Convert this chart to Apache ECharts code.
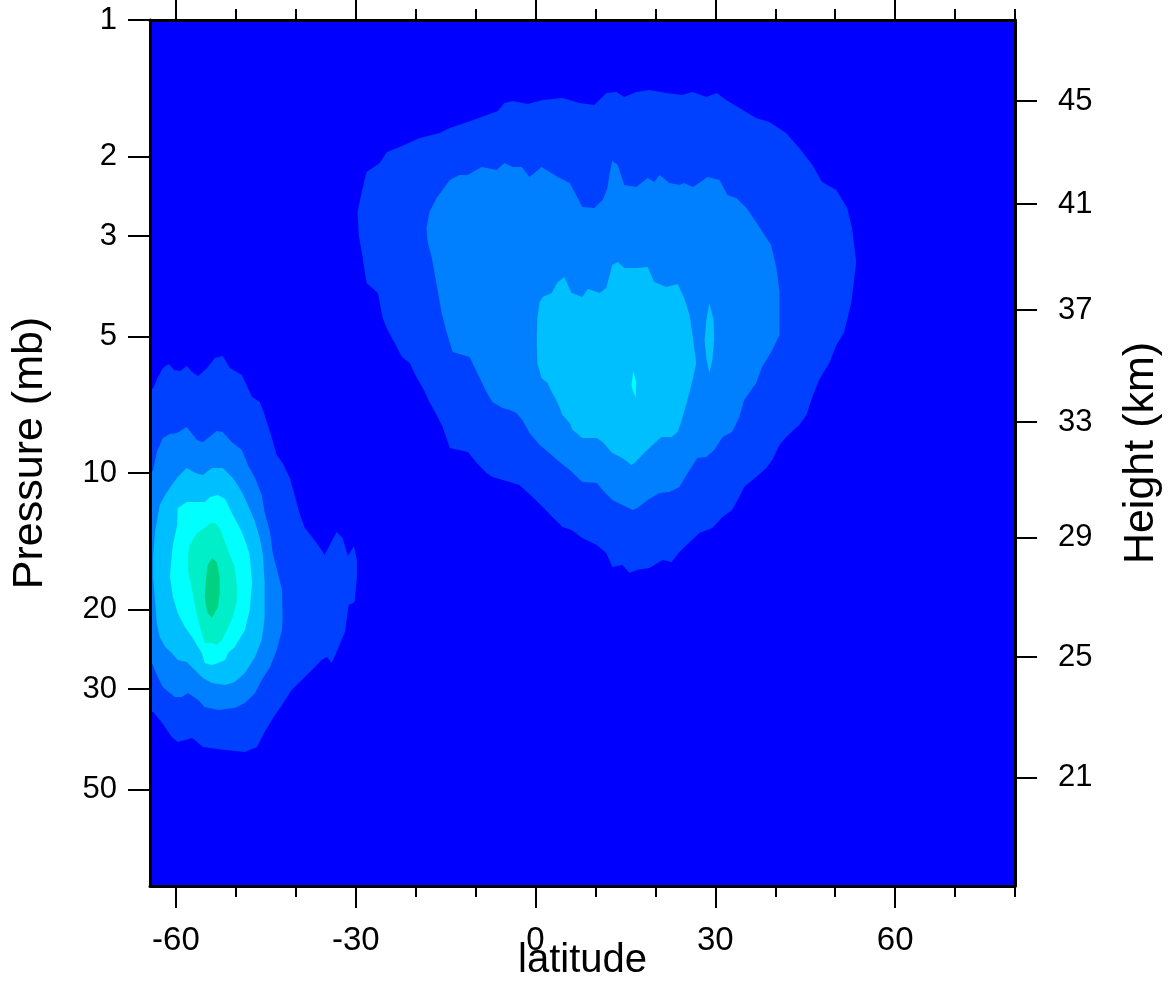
<!DOCTYPE html>
<html>
<head>
<meta charset="utf-8">
<script src="https://cdn.jsdelivr.net/npm/echarts@6/dist/echarts.min.js"></script>
<style>
html,body{margin:0;padding:0;background:#ffffff;}
#chart{width:1170px;height:986px;}
</style>
</head>
<body>
<div id="chart"></div>
<script>
// ---------------- axis data ----------------
const latMin = -64.33;
const latMax = 80;
const latMajor = [-60, -30, 0, 30, 60];
const latMinor = [-50, -40, -20, -10, 10, 20, 40, 50, 70, 80];
const pressureTop = 1;
const pressureBottom = 81.6;
const pressureTicks = [1, 2, 3, 5, 10, 20, 30, 50];
const heightLabels = [45, 41, 37, 33, 29, 25, 21];
const heightPressures = [1.51, 2.55, 4.37, 7.72, 13.9, 25.5, 47.1];

// contour level fill colours (background = level 0)
const backgroundColor = '#0000FF';
const levelColors = ['#0040FF', '#0080FF', '#00BFFF', '#00FFFF', '#00EEC8', '#00D282'];

// ---------------- contour outlines: [latitude, pressure (mb)] ----------------
const heartL1 = [[11.8,1.449],[9.8,1.540],[7.3,1.525],[4.5,1.487],[1.2,1.502],[-1.3,1.532],[-3.8,1.510],[-5.2,1.525],[-6.3,1.588],[-9.0,1.637],[-11.3,1.680],[-14.3,1.731],[-16.0,1.776],[-19.3,1.822],[-22.7,1.907],[-24.8,1.956],[-26.0,2.069],[-28.2,2.165],[-29.0,2.397],[-29.7,2.654],[-29.5,2.983],[-29.0,3.252],[-28.2,3.807],[-26.3,4.006],[-25.5,4.548],[-24.7,4.834],[-23.5,5.166],[-22.3,5.546],[-21.0,5.717],[-19.8,6.171],[-18.8,6.492],[-17.7,6.968],[-16.5,7.445],[-15.5,7.916],[-14.3,8.806],[-11.3,8.987],[-9.8,9.504],[-8.2,10.0],[-7.2,10.21],[-4.3,10.47],[-2.7,10.63],[-0.5,11.30],[1.2,11.89],[2.8,12.51],[4.5,13.16],[6.0,13.36],[7.8,13.92],[10.2,14.42],[11.8,15.02],[12.8,16.13],[14.5,15.97],[15.7,16.63],[16.8,16.38],[19.0,16.21],[21.2,15.56],[22.7,15.72],[24.0,14.94],[25.7,14.21],[27.3,13.57],[29.5,13.23],[31.2,12.51],[32.8,12.07],[34.0,11.30],[34.8,10.74],[36.8,10.21],[38.5,9.749],[39.5,9.361],[40.7,8.674],[41.8,8.328],[44.0,7.835],[45.2,7.447],[46.2,6.795],[47.3,6.233],[49.0,5.717],[50.2,5.217],[51.5,4.884],[52.7,4.195],[53.5,3.421],[52.8,2.879],[52.0,2.600],[50.2,2.373],[47.8,2.279],[46.2,2.090],[44.0,1.917],[41.8,1.776],[39.0,1.680],[36.8,1.646],[34.0,1.564],[31.8,1.502],[30.2,1.449],[28.5,1.479],[26.2,1.442],[24.5,1.464],[21.8,1.449],[19.0,1.427],[16.8,1.442],[14.8,1.479],[13.5,1.442]];

const heartL2 = [[-18.2,2.879],[-17.7,2.654],[-16.5,2.471],[-14.3,2.256],[-12.7,2.199],[-11.3,2.199],[-9.0,2.111],[-6.5,2.144],[-5.2,2.069],[-3.8,2.111],[-2.3,2.111],[-1.0,2.222],[1.0,2.111],[3.7,2.222],[5.7,2.290],[7.8,2.587],[9.8,2.600],[11.2,2.497],[12.0,2.349],[12.3,2.199],[12.8,2.048],[13.7,2.090],[14.8,2.313],[16.8,2.337],[18.7,2.233],[19.8,2.279],[20.7,2.199],[22.3,2.290],[24.0,2.313],[24.8,2.290],[26.2,2.337],[27.3,2.290],[28.7,2.222],[30.7,2.256],[32.0,2.434],[33.5,2.471],[35.2,2.600],[36.8,2.792],[38.2,2.983],[39.3,3.139],[40.2,3.527],[40.7,3.986],[40.7,4.959],[39.5,5.352],[37.8,5.834],[36.8,6.330],[34.8,6.901],[34.0,7.521],[32.8,8.119],[31.2,8.328],[29.8,8.897],[28.5,9.219],[27.0,9.266],[25.7,9.849],[24.0,10.74],[22.3,11.01],[20.7,11.07],[18.7,11.47],[17.0,11.95],[16.2,12.07],[14.5,11.77],[12.8,11.47],[11.2,10.90],[10.2,10.52],[7.8,10.47],[5.7,9.849],[4.0,9.456],[2.3,9.033],[0.7,8.674],[-1.0,8.160],[-2.2,7.638],[-3.2,7.370],[-4.3,7.260],[-5.5,7.185],[-7.2,6.968],[-8.2,6.625],[-9.8,5.985],[-11.0,5.546],[-13.8,5.406],[-14.3,5.166],[-14.8,4.909],[-15.7,4.412],[-16.5,3.846],[-17.3,3.352],[-18.0,3.091]];

const heartL3 = [[0.7,4.195],[1.2,4.088],[2.7,4.006],[3.7,3.788],[4.8,3.693],[6.0,4.006],[7.8,4.088],[8.7,3.925],[10.7,4.006],[11.8,3.906],[12.8,3.474],[13.7,3.421],[14.8,3.527],[16.8,3.527],[18.7,3.510],[19.8,3.788],[21.8,3.886],[23.7,3.826],[24.8,4.109],[25.7,4.479],[26.2,4.959],[26.8,5.717],[26.2,6.233],[25.2,7.004],[24.3,7.716],[23.7,8.119],[22.7,8.328],[21.0,8.328],[19.5,8.674],[17.8,9.126],[16.5,9.504],[16.0,9.602],[14.5,9.266],[12.8,9.033],[11.2,8.543],[10.2,8.371],[7.8,8.371],[6.2,8.037],[5.7,7.755],[4.5,7.447],[3.7,7.004],[2.8,6.659],[2.0,6.330],[1.0,6.171],[0.3,5.717],[0.2,5.086],[0.3,4.548]];

const heartL3Island = [[29.0,4.215],[29.7,4.595],[29.8,5.086],[29.5,5.631],[29.0,6.016],[28.5,5.574],[28.2,5.086],[28.5,4.595]];

const heartL4Sliver = [[16.3,5.955],[16.8,6.298],[16.7,6.830],[16.0,6.427]];

const blobL1 = [[-65,6.727],[-63.8,6.492],[-63.0,6.140],[-62.2,5.864],[-61.2,5.746],[-60.3,5.924],[-59.3,5.955],[-58.2,5.805],[-57.3,5.985],[-56.3,6.108],[-54.8,5.864],[-53.5,5.574],[-52.2,5.518],[-51.0,5.864],[-49.0,6.077],[-47.3,6.795],[-46.0,6.968],[-45.2,7.447],[-44.0,8.371],[-43.2,9.126],[-42.2,9.504],[-41.0,10.26],[-40.2,11.18],[-39.3,12.38],[-38.5,13.23],[-37.3,13.85],[-36.3,14.42],[-35.2,15.17],[-33.2,13.50],[-32.2,13.92],[-31.3,15.25],[-30.3,14.50],[-29.8,15.56],[-29.8,16.97],[-30.2,19.27],[-31.2,19.56],[-31.8,22.44],[-33.2,24.85],[-34.0,26.27],[-34.8,25.48],[-35.7,25.87],[-37.3,27.22],[-39.0,28.64],[-40.7,30.13],[-42.3,32.52],[-43.8,34.74],[-45.2,37.30],[-46.5,40.26],[-48.5,41.29],[-51.8,40.88],[-55.5,40.26],[-57.3,38.46],[-59.7,39.25],[-60.7,38.26],[-62.3,35.64],[-63.8,33.70],[-65,33.36]];

const blobL2 = [[-65,10.26],[-63.8,9.849],[-63.2,8.987],[-62.2,8.371],[-61.0,8.201],[-59.8,8.160],[-58.2,7.916],[-56.5,8.456],[-55.5,8.543],[-53.2,8.078],[-52.2,8.119],[-50.7,8.543],[-49.0,8.897],[-48.0,9.602],[-46.8,10.26],[-45.7,11.18],[-45.2,12.19],[-44.3,13.50],[-43.8,15.17],[-43.0,16.63],[-42.3,18.13],[-42.2,20.79],[-42.3,22.21],[-43.2,24.59],[-44.3,26.81],[-45.7,28.64],[-46.8,30.60],[-48.5,32.19],[-50.2,33.02],[-53.0,33.36],[-55.2,32.85],[-56.3,31.70],[-58.0,30.60],[-59.0,31.23],[-60.2,31.23],[-62.2,29.68],[-63.2,27.92],[-64.0,26.27],[-65,26.0]];

const blobL3 = [[-63.5,13.50],[-62.7,11.77],[-61.8,11.18],[-60.7,10.63],[-59.7,10.21],[-58.2,9.749],[-56.8,10.0],[-55.5,10.10],[-54.0,9.749],[-52.2,9.749],[-50.5,10.26],[-49.0,11.01],[-48.0,11.77],[-46.8,12.83],[-46.0,13.92],[-45.5,15.17],[-45.2,17.50],[-45.2,20.79],[-45.7,23.37],[-46.8,25.48],[-48.5,27.64],[-50.2,28.93],[-51.8,29.38],[-54.0,29.08],[-55.5,28.35],[-57.2,26.94],[-58.2,26.14],[-59.7,25.87],[-60.7,24.97],[-61.8,24.22],[-62.7,23.01],[-63.2,21.43],[-63.5,19.08],[-63.8,16.97],[-63.8,15.17]];

const blobL4 = [[-60.7,15.17],[-60.5,14.42],[-59.8,13.03],[-59.7,11.95],[-58.2,11.59],[-56.8,11.59],[-55.2,11.59],[-54.3,11.30],[-53.0,11.18],[-51.8,11.41],[-50.5,12.38],[-49.0,13.50],[-48.2,14.42],[-47.7,15.17],[-47.3,17.50],[-47.7,20.07],[-48.5,22.21],[-50.2,24.22],[-51.3,24.97],[-51.8,25.87],[-53.0,26.27],[-54.0,26.54],[-55.2,26.27],[-55.7,24.97],[-56.3,24.22],[-57.3,23.01],[-58.5,21.88],[-59.7,20.38],[-60.5,18.78],[-61.0,16.97]];

const blobL5 = [[-58.0,15.17],[-57.7,14.42],[-56.5,13.57],[-55.2,13.23],[-54.3,12.90],[-53.5,12.90],[-52.7,13.23],[-51.8,14.21],[-51.0,15.17],[-50.2,16.13],[-49.8,17.85],[-49.8,19.08],[-50.5,20.79],[-51.5,22.21],[-52.3,23.37],[-53.2,23.98],[-54.0,23.72],[-55.2,23.72],[-55.7,22.56],[-56.3,21.11],[-56.8,19.76],[-57.3,18.13],[-58.0,16.38]];

const blobL6 = [[-54.0,15.40],[-53.2,15.72],[-52.7,16.97],[-52.7,18.41],[-53.0,19.76],[-54.0,20.90],[-54.8,20.28],[-55.2,18.78],[-55.0,17.23],[-54.7,15.97]];

// filled regions, drawn from the lowest level upwards
const polygons = [
  {level: 1, pts: heartL1}, {level: 1, pts: blobL1},
  {level: 2, pts: heartL2}, {level: 2, pts: blobL2},
  {level: 3, pts: heartL3}, {level: 3, pts: heartL3Island}, {level: 3, pts: blobL3},
  {level: 4, pts: heartL4Sliver}, {level: 4, pts: blobL4},
  {level: 5, pts: blobL5},
  {level: 6, pts: blobL6}
];

// ---------------- chart ----------------
const FONT = '"Liberation Sans", Arial, Helvetica, sans-serif';
const lg = v => Math.log10(v);
const pickLabel = (v, values, labels) => {
  let best = 0, bd = Infinity;
  values.forEach((x, i) => { const d = Math.abs(lg(x) - v); if (d < bd) { bd = d; best = i; } });
  return String(labels[best]);
};

const frameLine = {color: '#000', width: 3};
const tickLine = {color: '#000', width: 2};

const baseX = {
  type: 'value', min: latMin, max: latMax, z: 10,
  splitLine: {show: false}
};

const chart = echarts.init(document.getElementById('chart'), null, {renderer: 'canvas'});
chart.setOption({
  animation: false,
  backgroundColor: '#ffffff',
  grid: {left: 150, top: 20, right: 155, bottom: 100, show: true, backgroundColor: backgroundColor, borderWidth: 0,
         containLabel: false, outerBoundsMode: 'none'},
  xAxis: [
    Object.assign({}, baseX, {
      position: 'bottom',
      axisLine: {show: true, onZero: false, lineStyle: frameLine},
      axisTick: {show: true, length: 22, lineStyle: tickLine, customValues: latMajor},
      axisLabel: {show: true, customValues: latMajor, margin: 38, fontSize: 33, color: '#000', fontFamily: FONT,
                  formatter: v => String(Math.round(v))},
      name: 'latitude', nameLocation: 'middle', nameGap: 55, nameMoveOverlap: false,
      nameTextStyle: {fontSize: 40, color: '#000', fontFamily: FONT, verticalAlign: 'top'}
    }),
    Object.assign({}, baseX, {
      position: 'bottom',
      axisLine: {show: false, onZero: false},
      axisTick: {show: true, length: 11, lineStyle: tickLine, customValues: latMinor},
      axisLabel: {show: false}
    }),
    Object.assign({}, baseX, {
      position: 'top',
      axisLine: {show: true, onZero: false, lineStyle: frameLine},
      axisTick: {show: true, length: 22, lineStyle: tickLine, customValues: latMajor},
      axisLabel: {show: false}
    }),
    Object.assign({}, baseX, {
      position: 'top',
      axisLine: {show: false, onZero: false},
      axisTick: {show: true, length: 11, lineStyle: tickLine, customValues: latMinor},
      axisLabel: {show: false}
    })
  ],
  yAxis: [
    {
      type: 'value', position: 'left', inverse: true, z: 10,
      min: lg(pressureTop), max: lg(pressureBottom),
      splitLine: {show: false},
      axisLine: {show: true, onZero: false, lineStyle: frameLine},
      axisTick: {show: true, length: 22, lineStyle: tickLine, customValues: pressureTicks.map(lg)},
      axisLabel: {show: true, customValues: pressureTicks.map(lg), margin: 33, fontSize: 31, color: '#000', fontFamily: FONT,
                  formatter: v => pickLabel(v, pressureTicks, pressureTicks)},
      name: 'Pressure (mb)', nameLocation: 'middle', nameRotate: 90, nameGap: 98, nameMoveOverlap: false,
      nameTextStyle: {fontSize: 43, color: '#000', fontFamily: FONT}
    },
    {
      type: 'value', position: 'right', inverse: true, z: 10,
      min: lg(pressureTop), max: lg(pressureBottom),
      splitLine: {show: false},
      axisLine: {show: true, onZero: false, lineStyle: frameLine},
      axisTick: {show: true, length: 22, lineStyle: tickLine, customValues: heightPressures.map(lg)},
      axisLabel: {show: true, customValues: heightPressures.map(lg), margin: 43, fontSize: 31, color: '#000', fontFamily: FONT,
                  formatter: v => pickLabel(v, heightPressures, heightLabels)},
      name: 'Height (km)', nameLocation: 'middle', nameRotate: 90, nameGap: 105, nameMoveOverlap: false,
      nameTextStyle: {fontSize: 43, color: '#000', fontFamily: FONT}
    }
  ],
  series: [{
    type: 'custom',
    coordinateSystem: 'cartesian2d',
    xAxisIndex: 0,
    yAxisIndex: 0,
    clip: true,
    silent: true,
    data: polygons.map((p, i) => [p.pts[0][0], lg(p.pts[0][1]), i]),
    encode: {x: 0, y: 1},
    renderItem: function (params, api) {
      const poly = polygons[params.dataIndex];
      const points = poly.pts.map(pt => api.coord([pt[0], lg(pt[1])]));
      return {
        type: 'polygon',
        shape: {points: points},
        style: {fill: levelColors[poly.level - 1], stroke: null}
      };
    }
  }]
});
</script>
</body>
</html>
